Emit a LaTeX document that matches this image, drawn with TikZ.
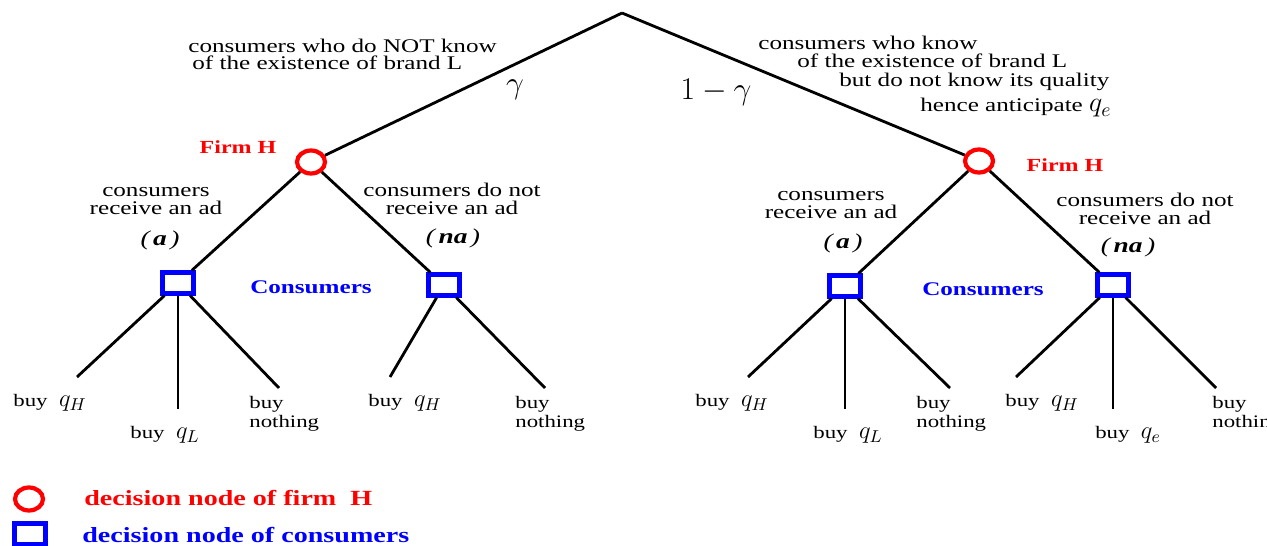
\RequirePackage{fix-cm}
\documentclass[tikz,border=0pt]{standalone}
\usepackage{amsmath}
\usepackage[no-math]{fontspec}
\setmainfont{Liberation Serif}[FakeStretch=1.3]
\usetikzlibrary{shapes.geometric}

\newcommand{\calidad}[2][14]{{\fontsize{#1}{#1}\selectfont$q_{#2}$}}

\begin{document}
\begin{tikzpicture}[x=0.02cm, y=-0.02cm,
    rama/.style={line width=1.6pt},
    firma/.style={ellipse, draw=red, line width=2.4pt, minimum width=0.56cm, minimum height=0.46cm, inner sep=0pt},
    consum/.style={rectangle, draw=blue, line width=2.4pt, minimum width=0.62cm, minimum height=0.42cm, inner sep=0pt},
    etiq/.style={font=\fontsize{11}{10}\selectfont, inner sep=0pt},
    hoja/.style={font=\fontsize{10}{10.5}\selectfont, inner sep=0pt},
    accion/.style={font=\fontsize{12}{12}\selectfont\itshape, inner sep=0pt},
    jugH/.style={font=\fontsize{10.5}{12}\selectfont\bfseries, text=red, inner sep=0pt},
    jugC/.style={font=\fontsize{11}{12}\selectfont\bfseries, text=blue, inner sep=0pt},
    leyenda/.style={font=\fontsize{12.3}{14}\selectfont\bfseries, anchor=west, inner sep=0pt}]

  \useasboundingbox (0,0) rectangle (1267,546);

  % Raiz y nodos de decision
  \coordinate (raiz) at (622,13);
  \node[firma] (fL) at (311,162) {};
  \node[firma] (fR) at (979,161) {};
  \node[consum] (cLa) at (178,283) {};
  \node[consum] (cLn) at (444,285) {};
  \node[consum] (cRa) at (845,286) {};
  \node[consum] (cRn) at (1113,285) {};

  % Extremos de las hojas
  \coordinate (hLa1) at (77,377);
  \coordinate (hLa2) at (178,409);
  \coordinate (hLa3) at (279,388);
  \coordinate (hLn1) at (390,377);
  \coordinate (hLn2) at (545,388);
  \coordinate (hRa1) at (748,377);
  \coordinate (hRa2) at (845,409);
  \coordinate (hRa3) at (950,388);
  \coordinate (hRn1) at (1016,377);
  \coordinate (hRn2) at (1113,409);
  \coordinate (hRn3) at (1216,388);

  % Ramas
  \foreach \desde/\hasta in {raiz/fL, raiz/fR, fL/cLa, fL/cLn, fR/cRa, fR/cRn,
      cLa/hLa1, cLa/hLa2, cLa/hLa3, cLn/hLn1, cLn/hLn2,
      cRa/hRa1, cRa/hRa2, cRa/hRa3, cRn/hRn1, cRn/hRn2, cRn/hRn3}
    \draw[rama] (\desde) -- (\hasta);

  % Textos de arriba
  \node[etiq, anchor=base west] (tL1) at (188,53) {consumers who do NOT know};
  \node[etiq, anchor=base west] (tL2) at (192,70) {of the existence of brand L};
  \node[etiq, anchor=base west] (tR1) at (758,50) {consumers who know};
  \node[etiq, anchor=base west] (tR2) at (797,68) {of the existence of brand L};
  \node[etiq, anchor=base west] (tR3) at (839,87) {but do not know its quality};
  \node[etiq, anchor=base west] (tR4) at (920,112) {hence anticipate \calidad[16]{e}};
  \node[inner sep=0pt] (gam) at (515,90) {\fontsize{18}{18}\selectfont$\gamma$};
  \node[inner sep=0pt] (ungam) at (716,92) {\fontsize{18}{18}\selectfont$1-\gamma$};

  % Jugadores
  \node[jugH] (nomL) at (238,147) {Firm H};
  \node[jugH] (nomR) at (1065,165) {Firm H};
  \node[jugC] (conL) at (311,287) {Consumers};
  \node[jugC] (conR) at (983,289) {Consumers};

  % Acciones de la firma
  \node[etiq, align=center] (aL) at (156,201) {consumers\\receive an ad};
  \node[etiq, align=center] (nL) at (452,199) {consumers do not\\receive an ad};
  \node[etiq, align=center] (aR) at (831,205) {consumers\\receive an ad};
  \node[etiq, align=center] (nR) at (1145,209) {consumers do not\\receive an ad};
  \node[accion] (paL) at (160,240) {(\,\textbf{a}\,)};
  \node[accion] (pnL) at (453,238) {(\,\textbf{na}\,)};
  \node[accion] (paR) at (843,243) {(\,\textbf{a}\,)};
  \node[accion] (pnR) at (1128,247) {(\,\textbf{na}\,)};

  % Etiquetas de las hojas
  \node[hoja] (bLa1) at (50,403) {buy~~\calidad{H}};
  \node[hoja] (bLa2) at (165,435) {buy~~\calidad{L}};
  \node[hoja, align=left, anchor=west] (bLa3) at (249,414) {buy\\nothing};
  \node[hoja] (bLn1) at (405,403) {buy~~\calidad{H}};
  \node[hoja, align=left, anchor=west] (bLn2) at (515,414) {buy\\nothing};
  \node[hoja] (bRa1) at (732,403) {buy~~\calidad{H}};
  \node[hoja] (bRa2) at (848,435) {buy~~\calidad{L}};
  \node[hoja, align=left, anchor=west] (bRa3) at (916,414) {buy\\nothing};
  \node[hoja] (bRn1) at (1042,403) {buy~~\calidad{H}};
  \node[hoja] (bRn2) at (1128,435) {buy~~\calidad{e}};
  \node[hoja, align=left, anchor=west] (bRn3) at (1212,414) {buy\\nothing};

  % Leyenda
  \node[firma] (legF) at (29,499) {};
  \node[leyenda, text=red] (legFt) at (84,498) {decision node of firm~~H};
  \node[consum] (legC) at (30,534) {};
  \node[leyenda, text=blue] (legCt) at (82,535) {decision node of consumers};
\end{tikzpicture}
\end{document}
